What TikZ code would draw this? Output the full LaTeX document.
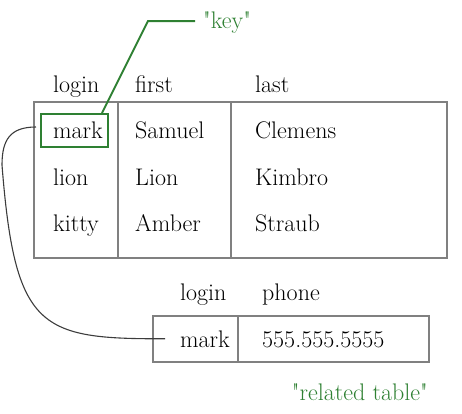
\documentclass[tikz,border=0pt]{standalone}
\usepackage{fontspec}
\definecolor{keygreen}{RGB}{46,128,50}
\definecolor{framegray}{RGB}{128,128,128}
\definecolor{linkgray}{RGB}{60,60,60}
\begin{document}
\begin{tikzpicture}[x=1pt,y=-1pt,
    every node/.style={inner sep=0pt,anchor=base west,
      font=\fontsize{24}{28}\selectfont},
    frame/.style={draw=framegray,line width=1.5pt},
    keybox/.style={draw=keygreen,line width=2pt,anchor=center,
      minimum width=67pt,minimum height=33pt},
    keyline/.style={draw=keygreen,line width=2pt},
    note/.style={text=keygreen},
    link/.style={draw=linkgray,line width=1.1pt}]
  \useasboundingbox (0,0) rectangle (462,413);
  \draw[frame] (34,102) rectangle (447,258);
  \draw[frame] (118,102) -- (118,258);
  \draw[frame] (231,102) -- (231,258);
  \draw
    (53,92) node (hlogin){login}
    (135,92) node (hfirst){first}
    (255,92) node (hlast){last}
    (53,138) node (login1){mark}
    (135,138) node (first1){Samuel}
    (255,138) node (last1){Clemens}
    (53,185) node (login2){lion}
    (135,185) node (first2){Lion}
    (255,185) node (last2){Kimbro}
    (53,231) node (login3){kitty}
    (135,231) node (first3){Amber}
    (255,231) node (last3){Straub};
  \node[keybox] (keybox) at (74.5,130.5) {};
  \node[note] (keynote) at (203,28) {\textquotedbl key\textquotedbl};
  \coordinate (keybend) at (148,21);
  \coordinate (keyend) at ([xshift=-8pt]keynote.west);
  \draw[keyline] ([xshift=27.5pt]keybox.north) -- (keybend)
    -- (keybend -| keyend);
  \draw[frame] (153,316) rectangle (429,362);
  \draw[frame] (238,316) -- (238,362);
  \draw
    (180,300) node (rlogin){login}
    (262,300) node (rphone){phone}
    (180,347) node (relmark){mark}
    (262,347) node (relphone){555.555.5555};
  \node[note,anchor=base east] (relnote) at (428,400)
    {\textquotedbl related table\textquotedbl};
  \coordinate (linkstart) at (36,127);
  \coordinate (linkend) at ([xshift=-15pt]relmark.west);
  \draw[link] (linkstart) .. controls (10,127) and (2,140) .. (2,165)
    .. controls (15,330) and (40,339) .. (linkend);
\end{tikzpicture}
\end{document}
